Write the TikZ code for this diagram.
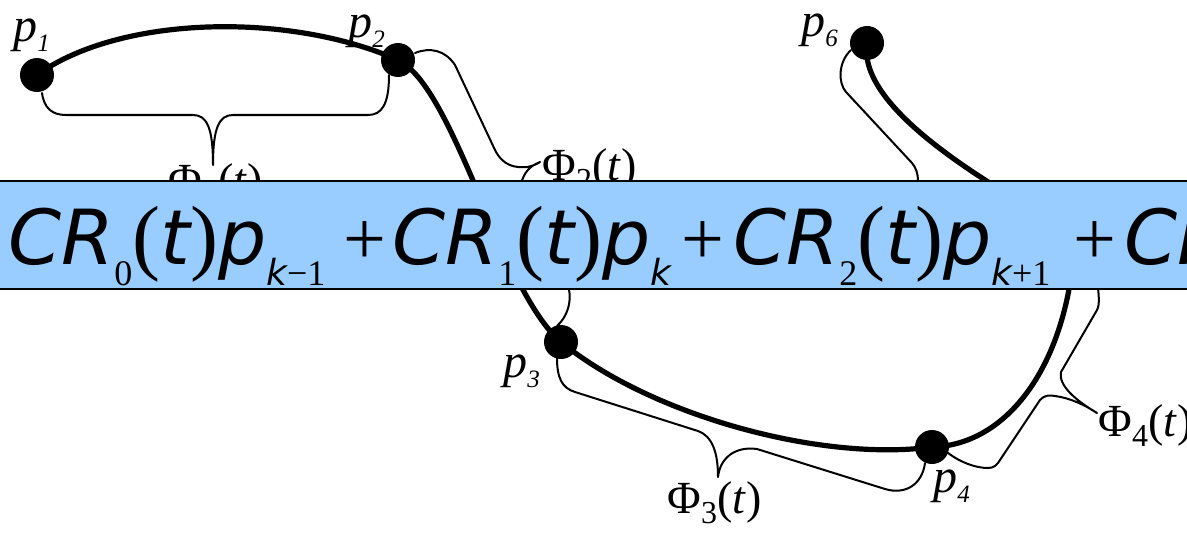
\documentclass[tikz,border=0pt]{standalone}
\usepackage{fontspec}
\setmainfont{Liberation Serif}
\newfontfamily\eqsans{DejaVu Sans}
\usepackage{xcolor}
\usetikzlibrary{positioning}

\definecolor{bannerblue}{HTML}{99CCFF}
\newcommand{\ev}[1]{{\eqsans\itshape #1}}
\newcommand{\es}[1]{\raisebox{-10.5pt}{\fontsize{18}{18}\selectfont #1}}
\newcommand{\et}{{\fontsize{42}{42}\selectfont(}\ev{t}{\fontsize{42}{42}\selectfont)}}
\newcommand{\ls}[1]{\raisebox{-5pt}{\fontsize{12.5}{12.5}\selectfont #1}}
\newcommand{\ps}[1]{\raisebox{-5pt}{\fontsize{16}{16}\selectfont #1}}

\begin{document}
\begin{tikzpicture}[
  x=0.5pt, y=-0.5pt,
  dot/.style={circle,fill=black,inner sep=0pt,minimum size=17pt},
  plbl/.style={font=\fontsize{24}{24}\selectfont\itshape,inner sep=0pt,anchor=base west},
  philbl/.style={font=\fontsize{23}{23}\selectfont,inner sep=0pt,anchor=base west},
  spline/.style={line width=2.6pt},
  brace/.style={line width=1pt,line join=round,line cap=round},
  banner/.style={fill=bannerblue,draw=black,line width=1.3pt},
  eqn/.style={font=\fontsize{38}{38}\selectfont,inner sep=0pt,anchor=base west}
]
\useasboundingbox (0,0) rectangle (1187,540);
\clip (0,0) rectangle (1187,540);

% control points
\node[dot] (p1) at (37,75) {};
\node[dot] (p2) at (398,60) {};
\node[dot] (p3) at (561,342) {};
\node[dot] (p4) at (932,447) {};
\coordinate (p5) at (1075,235);
\node[dot] (p6) at (867,43) {};

% the spline
\draw[spline] (p1.center) .. controls (120,15) and (290,12) .. (p2.center)
  .. controls (455,88) and (500,290) .. (p3.center)
  .. controls (650,415) and (820,462) .. (p4.center)
  .. controls (1010,445) and (1070,360) .. (p5)
  .. controls (1040,210) and (855,120) .. (p6.center);

% braces
\draw[brace] (42,93) .. controls (44,108) and (52,115) .. (66,115) -- (193,115)
  .. controls (207,115) and (213,128) .. (213,165)
  .. controls (213,128) and (219,115) .. (233,115) -- (368,115)
  .. controls (382,115) and (389,104) .. (389,75);
\draw[brace] (415,53) .. controls (430,47) and (445,50) .. (455,65) -- (495,150)
  .. controls (503,166) and (515,168) .. (527,167)
  .. controls (533,166) and (537,164) .. (540,162)
  .. controls (530,166) and (524,172) .. (521,184) -- (566,280)
  .. controls (574,298) and (568,316) .. (557,326);
\draw[brace] (557,358) .. controls (557,378) and (562,388) .. (575,392) -- (698,431)
  .. controls (712,436) and (718,452) .. (718,477)
  .. controls (720,458) and (735,446) .. (757,449) -- (885,489)
  .. controls (905,495) and (922,485) .. (925,463);
\draw[brace] (948,453) .. controls (960,462) and (975,468) .. (988,468)
  .. controls (994,468) and (997,465) .. (1000,460) -- (1040,400)
  .. controls (1044,395) and (1050,395) .. (1055,396)
  .. controls (1070,398) and (1085,405) .. (1097,413)
  .. controls (1075,400) and (1058,385) .. (1061,372) -- (1097,310)
  .. controls (1100,304) and (1099,296) .. (1096,270);
\draw[brace] (920,230) -- (918,182) .. controls (918,173) and (916,168) .. (912,163)
  -- (846,92) .. controls (838,83) and (838,62) .. (851,50);

% labels
\node[plbl] (l1) at (13,42) {p\ls{1}};
\node[plbl] (l2) at (348,38) {p\ls{2}};
\node[plbl] (l3) at (503,377) {p\ls{3}};
\node[plbl] (l4) at (933,492) {p\ls{4}};
\node[plbl] (l6) at (801,37) {p\ls{6}};
\node[philbl] (f1) at (168,195) {Φ\ps{1}(\textit{t})};
\node[philbl] (f2) at (542,180) {Φ\ps{2}(\textit{t})};
\node[philbl] (f3) at (667,513) {Φ\ps{3}(\textit{t})};
\node[philbl] (f4) at (1098,436) {Φ\ps{4}(\textit{t})};

% formula banner
\path[banner] (-20,181) rectangle (1210,289);
\node[eqn] (t0) at (8,264) {\ev{CR}\es{0}\et\ev{p}\es{\ev{k}−1}};
\node[eqn] (pl1) at (343,264) {+};
\node[eqn] (t1) at (392,264) {\ev{CR}\es{1}\et\ev{p}\es{\ev{k}}};
\node[eqn] (pl2) at (681,264) {+};
\node[eqn] (t2) at (733,264) {\ev{CR}\es{2}\et\ev{p}\es{\ev{k}+1}};
\node[eqn] (pl3) at (1073,264) {+};
\node[eqn] (t3) at (1124,264) {\ev{CR}\es{3}\et\ev{p}\es{\ev{k}+2}};
\end{tikzpicture}
\end{document}
